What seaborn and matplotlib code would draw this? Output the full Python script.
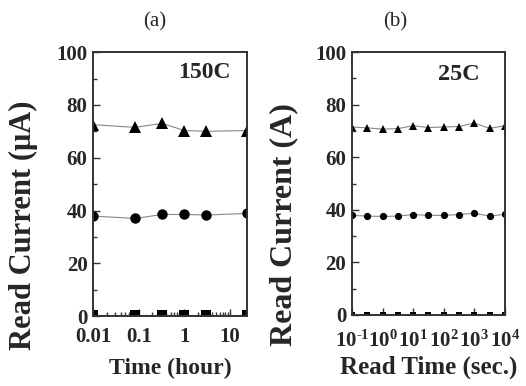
import numpy as np
import pandas as pd
import matplotlib
matplotlib.use('Agg')
import matplotlib.pyplot as plt
import seaborn as sns
from matplotlib.ticker import FixedLocator, LogLocator, NullFormatter, MultipleLocator

# data
# (a) 150C retention
time_hour = [0.01, 0.083, 0.33, 1, 3, 24]
high_a = [72.5, 71.5, 73.0, 70.3, 70.0, 70.3]
mid_a = [37.9, 37.0, 38.5, 38.5, 38.3, 38.9]
low_a = [0.4, 0.4, 0.4, 0.4, 0.4, 0.4]

# (b) 25C read disturb
read_sec = [0.1, 0.316, 1, 3.16, 10, 31.6, 100, 316, 1000, 3162, 10000]
high_b = [71.5, 71.2, 70.7, 70.9, 72.0, 71.3, 71.5, 71.7, 73.0, 71.0, 72.0]
mid_b = [37.9, 37.6, 37.5, 37.6, 38.2, 37.9, 37.9, 38.2, 38.7, 37.6, 38.3]
low_b = [0.0] * 11

b_ticks = [0.1, 1, 10, 100, 1000, 10000]
b_labels = ['10$^{\\text{-1}}$', '10$^{0}$', '10$^{1}$', '10$^{2}$', '10$^{3}$', '10$^{4}$']
a_ticks = [0.01, 0.1, 1, 10]
a_labels = ['0.01', '0.1', '1', '10']

sns.set_style('ticks')
plt.rcParams['font.family'] = ['Liberation Serif', 'DejaVu Serif']
plt.rcParams['mathtext.fontset'] = 'custom'
plt.rcParams['mathtext.rm'] = 'Liberation Serif:bold'
plt.rcParams['mathtext.bf'] = 'Liberation Serif:bold'
plt.rcParams['mathtext.it'] = 'Liberation Serif:bold:italic'

fig = plt.figure(figsize=(5.26, 3.86), dpi=100)
ax1 = fig.add_axes([0.177, 0.181, 0.293, 0.684])
ax2 = fig.add_axes([0.669, 0.184, 0.291, 0.681])


def draw(ax, x, series):
    for y, m, ms in series:
        df = pd.DataFrame({'x': x, 'y': y})
        sns.lineplot(data=df, x='x', y='y', ax=ax, color='#888888', lw=0.8,
                     marker=m, ms=ms, mfc='black', mec='black', mew=0)


draw(ax1, time_hour, [(high_a, '^', 9), (mid_a, 'o', 7.5), (low_a, 's', 7.2)])
draw(ax2, read_sec, [(high_b, '^', 6.2), (mid_b, 'o', 5.2), (low_b, 's', 4.5)])

for ax, ticks, labels, xlim, xpad in [(ax1, a_ticks, a_labels, (0.01, 24), 8),
                                       (ax2, b_ticks, b_labels, (0.1, 10000), 11)]:
    ax.set_xscale('log')
    ax.set_xlim(*xlim)
    ax.set_ylim(0, 100)
    ax.xaxis.set_major_locator(FixedLocator(ticks))
    ax.set_xticklabels(labels)
    ax.xaxis.set_minor_locator(LogLocator(base=10, subs=np.arange(2, 10)))
    ax.xaxis.set_minor_formatter(NullFormatter())
    ax.yaxis.set_major_locator(MultipleLocator(20))
    ax.yaxis.set_minor_locator(MultipleLocator(10))
    ax.tick_params(which='both', direction='in', top=False, right=False,
                   labelsize=15, width=1, color='#333333')
    ax.tick_params(which='major', length=5)
    ax.tick_params(which='minor', length=3)
    ax.tick_params(axis='x', which='major', pad=xpad)
    ax.tick_params(axis='y', which='major', pad=4)
    for lab in ax.get_xticklabels() + ax.get_yticklabels():
        lab.set_fontweight('bold')
    for sp in ax.spines.values():
        sp.set_visible(True)
        sp.set_linewidth(1.4)
        sp.set_color('#333333')

ax1.set_xlabel('Time (hour)', fontsize=17, fontweight='bold', labelpad=8)
ax1.set_ylabel('Read Current (μA)', fontsize=22, fontweight='bold')
ax1.yaxis.set_label_coords(-0.36, 0.345)
ax2.set_xlabel('Read Time (sec.)', fontsize=18, fontweight='bold', labelpad=3)
ax2.set_ylabel('Read Current (A)', fontsize=23, fontweight='bold')
ax2.yaxis.set_label_coords(-0.353, 0.344)

fig.text(155 / 526, 1 - 22 / 386, '(a)', fontsize=15, ha='center', va='center')
fig.text(395 / 526, 1 - 22 / 386, '(b)', fontsize=15, ha='center', va='center')

ax1.text(0.89, 0.924, '150C', transform=ax1.transAxes, ha='right', va='center',
         fontsize=17, fontweight='bold')
ax2.text(0.837, 0.913, '25C', transform=ax2.transAxes, ha='right', va='center',
         fontsize=17.5, fontweight='bold')

fig.savefig('out.png', dpi=100)
